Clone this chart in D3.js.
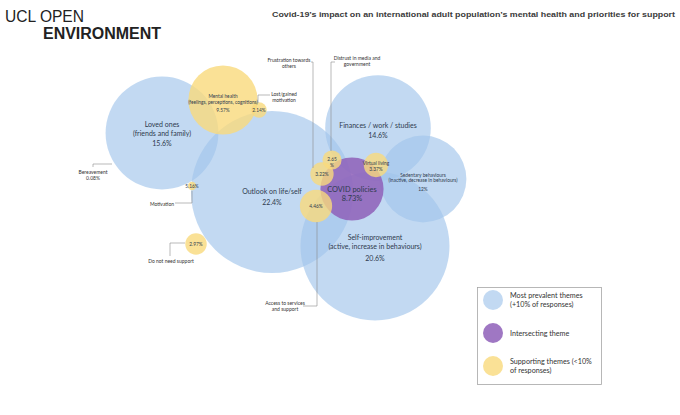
<!DOCTYPE html>
<html><head><meta charset="utf-8">
<script src="https://cdn.jsdelivr.net/npm/d3@7"></script>
<style>body{margin:0;background:#fff}svg{display:block}</style>
</head><body><svg id="c" width="680" height="415"></svg>
<script>
// ---- data ----
const themes = ["Loved ones","Outlook on life/self","Finances / work / studies","Sedentary behaviours","Self-improvement","COVID policies","Mental health","Lost/gained motivation","Frustration towards others","Distrust in media and government","Virtual living","Access to services and support","Do not need support","Motivation","Bereavement"];
const values = [15.6,22.4,14.6,12,20.6,8.73,9.57,2.14,3.22,2.65,3.37,4.46,2.97,1.16,0.08];
const valueLabels = ["15.6%","22.4%","14.6%","12%","20.6%","8.73%","9.57%","2.14%","3.22%","2.65%","3.37%","4.46%","2.97%","5.16%","0.08%"];
const kinds = ["prevalent","prevalent","prevalent","prevalent","prevalent","intersecting","supporting","supporting","supporting","supporting","supporting","supporting","supporting","supporting","supporting"];
const legendLabels = [["Most prevalent themes","(+10% of responses)"],["Intersecting theme"],["Supporting themes (<10%","of responses)"]];
const legendKinds = ["prevalent","intersecting","supporting"];
const title = "Covid-19\u2019s impact on an international adult population\u2019s mental health and priorities for support";

// ---- layout (positions only) ----
const centers = [[162,133],[272,192],[378,128],[423,179],[375,246],[352,189],[223,100],[259,110],[322,174],[332,160],[376,165],[316,206],[196,244],[192,186],[112,164]];
const inner = {
  "Loved ones": {lines:["Loved ones","(friends and family)","15.6%"], size:7, dy:[-8,1,11]},
  "Outlook on life/self": {lines:["Outlook on life/self","22.4%"], size:7, dy:[0,11]},
  "Finances / work / studies": {lines:["Finances / work / studies","14.6%"], size:7, dy:[-2,8]},
  "Sedentary behaviours": {lines:["Sedentary behaviours","(inactive, decrease in behaviours)","12%"], size:4.8, dy:[-4,1,10]},
  "Self-improvement": {lines:["Self-improvement","(active, increase in behaviours)","20.6%"], size:7, dy:[-8,1,13]},
  "COVID policies": {lines:["COVID policies","8.73%"], size:7.4, dy:[0,9]},
  "Mental health": {lines:["Mental health","(feelings, perceptions, cognitions)","9.57%"], size:4.8, dy:[-4,2,10]},
  "Virtual living": {lines:["Virtual living","3.37%"], size:4.8, dy:[-2,4]},
  "Distrust in media and government": {lines:["2.65","%"], size:4.8, dy:[-1,5]}
};
const annotations = [
  {t:"Frustration towards others", lines:["Frustration towards","others"], x:289, y:60, pts:[[311,62],[313,62],[313,168]]},
  {t:"Distrust in media and government", lines:["Distrust in media and","government"], x:357, y:58, pts:[[335,62],[331,62],[331,151]]},
  {t:"Lost/gained motivation", lines:["Lost/gained","motivation"], x:284, y:94, pts:[[270,95],[258,95],[258,103]]},
  {t:"Bereavement", lines:["Bereavement","0.08%"], x:93, y:172, pts:[[93,167],[93,164],[112,164]]},
  {t:"Motivation", lines:["Motivation"], x:162, y:204, pts:[[175,203],[192,203],[192,191]]},
  {t:"Do not need support", lines:["Do not need support"], x:171, y:261, pts:[[170,256],[170,243],[185,243]]},
  {t:"Access to services and support", lines:["Access to services","and support"], x:285, y:303, pts:[[303,306],[317,306],[317,222]]}
];

const fills = {prevalent:"#a2c4eb", intersecting:"#8e5fb8", supporting:"#f9da7c"};
const opac = {prevalent:0.65, intersecting:0.85, supporting:0.8};
const textColor = "#2e3a4e";
const font = "Lato, 'Open Sans', sans-serif";

const svg = d3.select("#c");
const r = d3.scaleLinear().domain([0, 22.4]).range([0, 81]);

const data = themes.map((t,i)=>({t, v:values[i], lab:valueLabels[i], kind:kinds[i], cx:centers[i][0], cy:centers[i][1]}));
const order = {prevalent:0, intersecting:1, supporting:2};
const drawn = data.filter(d=>d.t!=="Bereavement").slice().sort((a,b)=>order[a.kind]-order[b.kind]);

svg.append("g").selectAll("circle").data(drawn).join("circle")
  .attr("cx",d=>d.cx).attr("cy",d=>d.cy).attr("r",d=>r(d.v))
  .attr("fill",d=>fills[d.kind]).attr("fill-opacity",d=>opac[d.kind]);

const line = d3.line();
svg.append("g").selectAll("path").data(annotations).join("path")
  .attr("d",d=>line(d.pts)).attr("fill","none").attr("stroke","#8a8a8a").attr("stroke-width",0.6);

const tg = svg.append("g").attr("font-family",font).attr("fill",textColor).attr("text-anchor","middle");
data.forEach(d=>{
  if(d.t==="Bereavement") return;
  const spec = inner[d.t] || {lines:[d.lab], size:4.8, dy:[0]};
  spec.lines.forEach((ln,j)=>{
    tg.append("text").attr("x",d.cx).attr("y",d.cy+spec.dy[j]).attr("dy","0.35em")
      .attr("font-size",spec.size).text(ln);
  });
});

const ag = svg.append("g").attr("font-family",font).attr("fill","#333").attr("text-anchor","middle").attr("font-size",5);
annotations.forEach(a=>{
  a.lines.forEach((ln,j)=>{
    ag.append("text").attr("x",a.x).attr("y",a.y+j*6).attr("dy","0.35em").text(ln);
  });
});

// title & logo
svg.append("text").attr("x",272).attr("y",17).attr("font-family","'Liberation Sans Narrow', 'Liberation Sans', Arial, sans-serif")
  .attr("font-weight","bold").attr("font-size",8).attr("fill","#3a3a3a").attr("textLength",403).attr("lengthAdjust","spacingAndGlyphs").text(title);
svg.append("text").attr("x",5).attr("y",22).attr("font-family","'Liberation Sans', Arial, sans-serif")
  .attr("font-size",16.5).attr("fill","#222").attr("textLength",79).attr("lengthAdjust","spacingAndGlyphs").text("UCL OPEN");
svg.append("text").attr("x",43).attr("y",38.5).attr("font-family","'Liberation Sans', Arial, sans-serif")
  .attr("font-weight","bold").attr("font-size",16).attr("fill","#222").attr("textLength",118).attr("lengthAdjust","spacingAndGlyphs").text("ENVIRONMENT");

// legend
const lg = svg.append("g");
lg.append("rect").attr("x",477.5).attr("y",287.5).attr("width",124).attr("height",97).attr("fill","#fff").attr("stroke","#a6a6a6").attr("stroke-width",0.8);
const ly = d3.scalePoint().domain(legendKinds).range([300,366]);
legendKinds.forEach((k,i)=>{
  lg.append("circle").attr("cx",493).attr("cy",ly(k)).attr("r",10).attr("fill",fills[k]).attr("fill-opacity",opac[k]);
  const lines = legendLabels[i];
  lines.forEach((ln,j)=>{
    lg.append("text").attr("x",510).attr("y",ly(k)+(j-(lines.length-1)/2)*9).attr("dy","0.35em")
      .attr("font-family",font).attr("font-size",7.2).attr("fill","#333").text(ln);
  });
});
</script></body></html>
